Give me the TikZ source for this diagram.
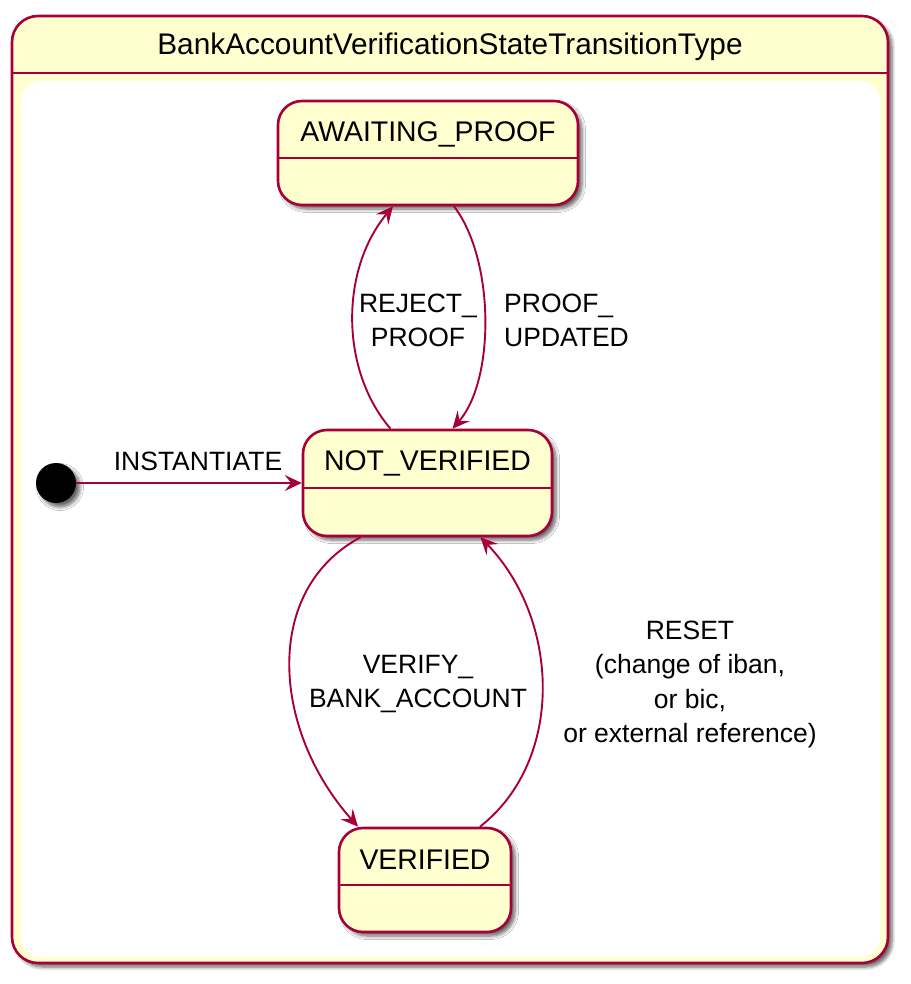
\documentclass[tikz,border=0pt]{standalone}
\usepackage{fontspec}
\setmainfont{Liberation Sans}
\usetikzlibrary{shadows,shadows.blur,arrows.meta,calc}
\definecolor{umlred}{HTML}{A80036}
\definecolor{umlfill}{HTML}{FEFECE}
\tikzset{
  shad/.style={blur shadow={shadow xshift=4pt,shadow yshift=-4pt,shadow blur steps=6,shadow blur radius=3.5pt,shadow opacity=60}},
  statebox/.style={draw=umlred,fill=umlfill,line width=2.6pt,rounded corners=24pt,shad,inner sep=0pt},
  statetext/.style={font=\fontsize{28.4}{33}\selectfont,inner sep=0pt},
  divider/.style={draw=umlred,line width=2.6pt},
  edge/.style={draw=umlred,line width=1.9pt,-{Stealth[length=17pt,width=16pt,inset=6.5pt]}},
  elabel/.style={font=\fontsize{26.5}{34.2}\selectfont,inner sep=0pt,align=center},
}
\begin{document}
\begin{tikzpicture}[x=1pt,y=-1pt]
\useasboundingbox (0,0) rectangle (910,984);
% composite state
\node[statebox,rounded corners=26pt,minimum width=876pt,minimum height=947pt] (outer) at (450,489.5) {};
\fill[white,rounded corners=20pt] (21,81) rectangle (880,957);
\draw[divider] (outer.west |- 0,73) -- (outer.east |- 0,73);
\node[statetext,font=\fontsize{29.8}{33}\selectfont] (title) at (450,47) {BankAccountVerificationStateTransitionType};
% states
\node[statebox,minimum width=300pt,minimum height=104pt] (ap) at (428,153) {};
\node[statetext] (apt) at (428,134) {AWAITING\_PROOF};
\draw[divider] (ap.west |- 0,158) -- (ap.east |- 0,158);
\node[statebox,minimum width=249pt,minimum height=106pt] (nv) at (427.5,483) {};
\node[statetext] (nvt) at (427.5,463) {NOT\_VERIFIED};
\draw[divider] (nv.west |- 0,488) -- (nv.east |- 0,488);
\node[statebox,minimum width=172pt,minimum height=104pt] (vf) at (425,880) {};
\node[statetext] (vft) at (425,860) {VERIFIED};
\draw[divider] (vf.west |- 0,885) -- (vf.east |- 0,885);
% initial
\node[circle,fill=black,minimum size=40pt,inner sep=0pt,shad] (init) at (56,483) {};
% edges
\draw[edge] (init.east) -- (nv.west);
\node[elabel] (l1) at (198,461) {INSTANTIATE};
\draw[edge] ($(nv.north)+(-37,0)$) .. controls (340,370) and (340,270) .. ($(ap.south)+(-35,0)$);
\node[elabel] (l2) at (418,320) {REJECT\_\\PROOF};
\draw[edge] ($(ap.south)+(26,0)$) .. controls (495,260) and (495,380) .. ($(nv.north)+(25,0)$);
\node[elabel,anchor=west,align=left] (l3) at (504,320) {PROOF\_\\UPDATED};
\draw[edge] ($(nv.south)+(-67,0)$) .. controls (262,590) and (272,730) .. ($(vf.north)+(-67,0)$);
\node[elabel] (l4) at (418,684) {VERIFY\_\\BANK\_ACCOUNT};
\draw[edge] ($(vf.north)+(55,0)$) .. controls (565,760) and (560,620) .. ($(nv.south)+(53,0)$);
\node[elabel] (l5) at (690,684.5) {RESET\\(change of iban,\\or bic,\\or external reference)};
\end{tikzpicture}
\end{document}
